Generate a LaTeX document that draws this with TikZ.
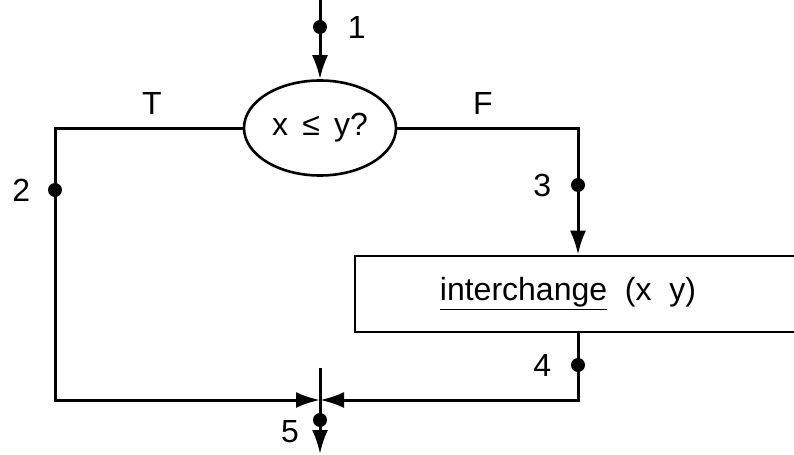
\documentclass[tikz,border=0pt]{standalone}
\usepackage{fontspec}
\setmainfont{Liberation Sans}
\usetikzlibrary{arrows.meta,positioning,shapes.geometric}

\begin{document}
\begin{tikzpicture}[x=0.5pt, y=-0.5pt,
    font=\fontsize{16}{19}\selectfont,
    test/.style={draw, ellipse, line width=1.3pt, minimum width=76pt, minimum height=47.5pt, inner sep=0pt},
    box/.style={draw, rectangle, line width=1.3pt, minimum width=250pt, minimum height=38pt, inner sep=0pt},
    waydot/.style={circle, fill, inner sep=0pt, minimum size=7pt},
    tag/.style={inner sep=0pt},
    line/.style={line width=1.5pt},
    flow/.style={line width=1.5pt, -{Latex[length=12pt, width=8pt]}}
  ]
    \useasboundingbox (0,0) rectangle (794,455);
    \clip (0,0) rectangle (794,455);
    % shapes
    \node[test] (cmp) at (320,128) {x\, ≤\, y?};
    \node[box] (swap) at (605,294) {};
    \node[tag] (swaptext) at (568,294) {\underline{interchange}\ \ (x\ \ y)};
    % corners and ends
    \coordinate (in) at (320,0);
    \coordinate (tl) at (55,128);
    \coordinate (bl) at (55,400);
    \coordinate (tr) at (578,128);
    \coordinate (br) at (578,400);
    \coordinate (join) at (320,400);
    \coordinate (tick) at (320,368);
    \coordinate (out) at (320,454);
    % connectors
    \draw[flow] (in) -- (cmp.north);
    \draw[flow] (cmp.west) -- (tl) -- (bl) -- (join);
    \draw[flow] (cmp.east) -- (tr) -- (tr |- swap.north);
    \draw[flow] (tr |- swap.south) -- (br) -- (join);
    \draw[line] (tick) -- (join);
    \draw[flow] (join) -- (out);
    % points
    \node[waydot] (d1) at (320,27) {};
    \node[waydot] (d2) at (55,190) {};
    \node[waydot] (d3) at (578,185) {};
    \node[waydot] (d4) at (578,365) {};
    \node[waydot] (d5) at (320,420) {};
    % labels
    \node[tag, right=10pt of d1] (n1) {1};
    \node[tag, left=8.5pt of d2] (n2) {2};
    \node[tag, left=9.5pt of d3] (n3) {3};
    \node[tag, left=9.5pt of d4] (n4) {4};
    \node[tag] (n5) at (290,432) {5};
    \node[tag] (t) at (152,103) {T};
    \node[tag] (f) at (483,103) {F};
  \end{tikzpicture}
\end{document}
